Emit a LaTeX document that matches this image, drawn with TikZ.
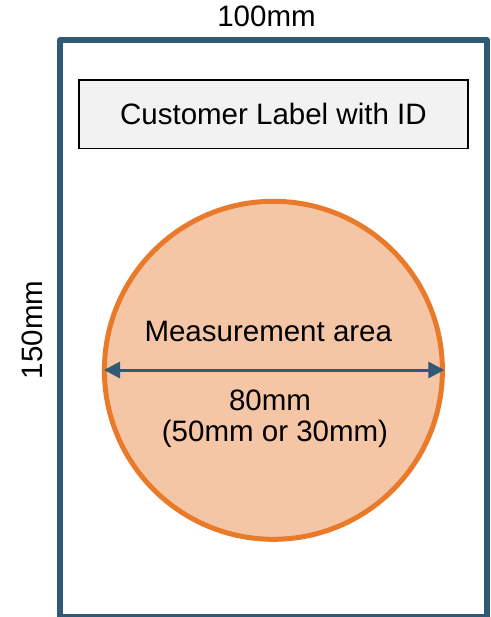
\documentclass[tikz,border=0pt]{standalone}
\usepackage{fontspec}
\setmainfont{Liberation Sans}
\usetikzlibrary{arrows.meta}
\definecolor{framecol}{HTML}{2E5A75}
\definecolor{circline}{HTML}{E97A2A}
\definecolor{circfill}{HTML}{F5C6A6}
\definecolor{labelfill}{HTML}{F2F2F2}
\tikzset{
  txt/.style={inner sep=0pt, anchor=base, font=\fontsize{29.5}{35}\selectfont},
  frame/.style={draw=framecol, line width=6pt, line join=round},
  labelbox/.style={draw=black, fill=labelfill, line width=1.5pt},
  area/.style={draw=circline, fill=circfill, line width=5pt},
  dim/.style={draw=framecol, line width=3pt, {Triangle[length=16pt,width=16pt]}-{Triangle[length=16pt,width=16pt]}}
}
\begin{document}
\begin{tikzpicture}[x=1pt,y=-1pt]
  \useasboundingbox (0,0) rectangle (490,617);
  % sheet outline and size labels
  \path[frame] (60,40) rectangle (487,617);
  \node[txt] (width) at (266.5,27) {100mm};
  \node[txt, rotate=90] (height) at (42,330) {150mm};
  % customer label strip
  \node[labelbox, minimum width=389pt, minimum height=68.5pt, inner sep=0pt] (label) at (273.3,114.3) {};
  \node[txt] (labeltext) at (273.4,125) {Customer Label with ID};
  % circular measurement area
  \path[area] (273.4,370.3) circle[radius=169];
  \coordinate (dimL) at (104,370);
  \coordinate (dimR) at (444.3,370);
  \draw[dim] (dimL) -- (dimR);
  \node[txt] (areatext) at (268.3,341.7) {Measurement area};
  \node[txt] (size1) at (270,410) {80mm};
  \node[txt] (size2) at (275,441.7) {(50mm or 30mm)};
\end{tikzpicture}
\end{document}
